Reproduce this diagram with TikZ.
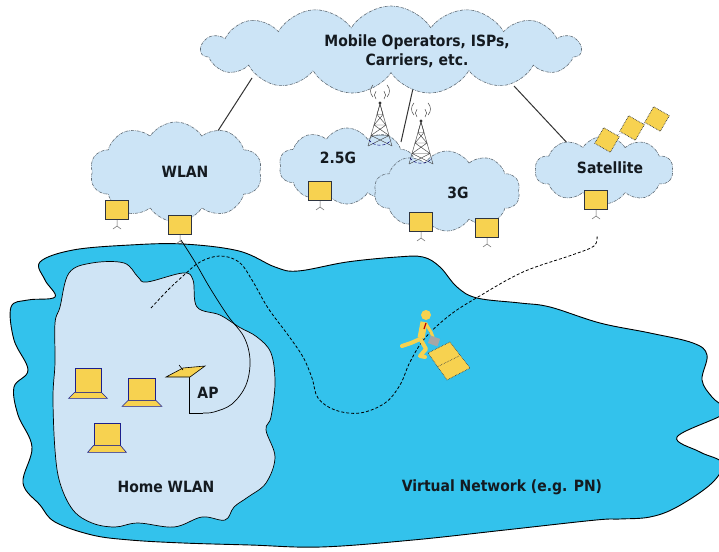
\documentclass[tikz,border=0pt]{standalone}
\usepackage{fontspec}
\setmainfont{DejaVu Sans Condensed}
\usetikzlibrary{shapes.symbols,shapes.geometric,calc}

\definecolor{cloudfill}{HTML}{CCE4F6}
\definecolor{homefill}{HTML}{CFE4F5}
\definecolor{netblue}{HTML}{33C2EC}
\definecolor{devyellow}{HTML}{F7D250}
\definecolor{cloudline}{HTML}{5F6B75}
\definecolor{devedge}{HTML}{2E3440}
\definecolor{inktext}{HTML}{141A20}

\tikzset{
  cloudy/.style={shape=cloud, draw=cloudline, line width=0.6pt, densely dashdotted,
    fill=cloudfill, cloud puff arc=115, inner sep=0pt},
  lbl/.style={font=\bfseries\fontsize{15.5}{19.5}\selectfont, text=inktext, inner sep=0pt, align=center},
  link/.style={draw=black!80, line width=1pt},
  device/.style={draw=devedge, line width=1pt, fill=devyellow, minimum width=23pt,
    minimum height=19pt, inner sep=0pt},
  standline/.style={draw=black!60, line width=0.5pt},
  screen/.style={fill=devyellow, draw=devedge!60!blue, line width=0.6pt, inner sep=0pt},
  region/.style={draw=black, line width=0.9pt},
  towerline/.style={draw=black!75, line width=0.45pt},
  satbox/.style={draw=devedge, densely dotted, line width=0.7pt, fill=devyellow,
    minimum size=18pt, inner sep=0pt, rotate=-30},
  runner/.style={draw=devyellow, line width=4pt, line cap=round, line join=round},
  pics/mast/.style={code={
    \draw[towerline] (0,0) -- (-12,42) (0,0) -- (12,42);
    \draw[towerline] (-3,10.5) -- (3,10.5) (-6,21) -- (6,21) (-9,31.5) -- (9,31.5)
      (-3,10.5) -- (6,21) (3,10.5) -- (-6,21) (-6,21) -- (9,31.5) (6,21) -- (-9,31.5)
      (-9,31.5) -- (12,42) (9,31.5) -- (-12,42) (0,0) -- (3,10.5) (0,0) -- (-3,10.5);
    \fill[black!80] (0,-1) circle (1.7);
    \draw[towerline] (-4,-5) arc[start angle=135,end angle=225,radius=5.5];
    \draw[towerline] (-7,-7) arc[start angle=135,end angle=225,radius=8.5];
    \draw[towerline] (4,-5) arc[start angle=45,end angle=-45,radius=5.5];
    \draw[towerline] (7,-7) arc[start angle=45,end angle=-45,radius=8.5];
    \draw[densely dashed, draw=blue!45!black, line width=0.5pt]
      (-11,36) .. controls (-6,43) and (6,43) .. (11,36);
  }}
}

\begin{document}
\begin{tikzpicture}[x=1pt,y=-1pt]
\useasboundingbox[fill=white] (0,0) rectangle (719,551);

% uplinks from the operator cloud
\coordinate (u1a) at (252,78);  \coordinate (u1b) at (214,137);
\coordinate (u2a) at (414,84);  \coordinate (u2b) at (401,142);
\coordinate (u3a) at (514,86);  \coordinate (u3b) at (570,146);
\draw[link] (u1a) -- (u1b);
\draw[link] (u2a) -- (u2b);
\draw[link] (u3a) -- (u3b);

% clouds
\node[cloudy, cloud puffs=15, minimum width=380pt, minimum height=88pt] (ops) at (391,50) {};
\node[lbl] (opstext) at (417,51) {Mobile Operators, ISPs,\\Carriers, etc.};

\node[cloudy, cloud puffs=10, minimum width=172pt, minimum height=100pt] (wlan) at (176,172) {};
\node[lbl] (wlantext) at (185,172) {WLAN};

\node[cloudy, cloud puffs=10, minimum width=136pt, minimum height=76pt] (g25) at (347,166) {};
\node[lbl] (g25text) at (338,158) {2.5G};
\pic (mast1) at (380,104) {mast};

\node[cloudy, cloud puffs=10, minimum width=146pt, minimum height=80pt] (g3) at (447,191) {};
\node[lbl] (g3text) at (458,193) {3G};
\pic (mast2) at (421,122) {mast};

\node[cloudy, cloud puffs=10, minimum width=138pt, minimum height=68pt] (sat) at (604,170) {};
\node[lbl] (sattext) at (610,168) {Satellite};

% satellites in orbit
\node[satbox] (sat1) at (607,140) {};
\node[satbox] (sat2) at (632,128) {};
\node[satbox] (sat3) at (657,119) {};
\draw[densely dotted, draw=devedge] (sat1) -- (sat2) -- (sat3);

% virtual network area
\draw[region, fill=netblue] plot[smooth cycle, tension=0.6] coordinates {
  (40,262) (73,250) (130,245) (183,244) (239,251) (275,267) (298,271) (347,262)
  (397,257) (423,257) (440,267) (457,287) (477,298) (520,303) (550,307) (600,323)
  (650,333) (693,343) (707,355) (702,380) (712,397) (722,406) (722,415) (677,437)
  (700,452) (722,463) (712,483) (677,507) (650,517) (620,519) (596,520) (505,530)
  (413,540) (321,547) (250,545) (183,543) (130,540) (92,535) (55,522) (40,505)
  (23,483) (32,447) (18,415) (14,387) (28,370) (14,340) (11,307) (28,300) (55,297)
  (45,280)};

% home WLAN area
\draw[region, line width=0.7pt, fill=homefill] plot[smooth cycle, tension=0.6] coordinates {
  (69,273) (92,263) (124,263) (138,277) (147,282) (183,273) (193,280) (197,307)
  (220,315) (239,327) (257,337) (271,353) (275,383) (271,417) (266,430) (275,457)
  (266,483) (248,497) (234,507) (225,520) (202,517) (174,527) (138,523) (115,527)
  (92,523) (73,510) (60,483) (55,450) (53,397) (55,363) (55,323) (60,307)};

% access points of the clouds
\node[device] (dw1) at (117,210) {};
\node[device] (dw2) at (180,225) {};
\node[device] (d25) at (320,191) {};
\node[device] (d3a) at (421,222) {};
\node[device] (d3b) at (487,228) {};
\node[device] (dsat) at (596,200) {};
\foreach \d in {dw1,dw2,d25,d3a,d3b,dsat}{
  \draw[standline] (\d.south) -- ++(0,6) coordinate (\d-foot)
    (\d-foot) -- ++(-4,3) (\d-foot) -- ++(4,3);
}

% wired link from the WLAN access point to the home AP
\coordinate (apbase) at (203,413);
\draw[black, line width=0.7pt] (dw2-foot) plot[smooth, tension=0.6] coordinates {
  (181,240) (195,262) (210,288) (228,316) (244,337) (250,360) (246,385) (232,404)
  (214,412) (203,413)};

% path of the roaming user
\draw[black, line width=0.8pt, dash pattern=on 3pt off 2pt] plot[smooth, tension=0.6] coordinates {
  (151,308) (168,290) (183,276) (200,262) (220,256) (239,262) (252,280) (268,308)
  (288,335) (303,357) (312,378) (318,398) (335,410) (360,413) (385,403) (400,385)
  (410,362) (425,338) (450,315) (478,297) (523,272) (572,255) (594,246) (597,236)};

% home AP
\draw[black, line width=0.8pt] (189,377) -- (189,413) -- (apbase);
\filldraw[fill=devyellow, draw=black, line width=0.6pt]
  (166,377) -- (190,377) -- (205,366) -- (183,368) -- cycle;
\draw[black, line width=0.6pt] (179,365) -- (183,370);
\node[lbl] (aptext) at (208,393) {AP};

% laptops at home
\node[screen, minimum width=26pt, minimum height=24pt] (lap1) at (88,380) {};
\filldraw[fill=devyellow, draw=devedge!60!blue, line width=0.6pt]
  (lap1.south west) -- (lap1.south east) -- ++(6,6) -- ($(lap1.south west)+(-6,6)$) -- cycle;
\node[screen, minimum width=27pt, minimum height=22pt] (lap2) at (142,389) {};
\filldraw[fill=devyellow, draw=devedge!60!blue, line width=0.6pt]
  (lap2.south west) -- (lap2.south east) -- ++(6,6) -- ($(lap2.south west)+(-6,6)$) -- cycle;
\node[screen, minimum width=26pt, minimum height=22pt] (lap3) at (107,434) {};
\filldraw[fill=devyellow, draw=devedge!60!blue, line width=0.6pt]
  (lap3.south west) -- (lap3.south east) -- ++(6,7) -- ($(lap3.south west)+(-6,7)$) -- cycle;

% roaming user with briefcase and laptop
\fill[devyellow] (426,315) circle (5);
\draw[runner, line width=7pt, line cap=butt] (424,322) -- (421,338);
\draw[runner] (420,339) -- (411,343) -- (402,346);
\draw[runner] (421,340) -- (426,349) -- (420,356) -- (425,357);
\draw[runner, line width=3pt] (426,324) -- (431,332) -- (433,337);
\draw[red!75!black, line width=1.2pt] (426,323) -- (424,329);
\node[fill=black!35, minimum width=10pt, minimum height=8pt, inner sep=0pt, rotate=-20] (case) at (434,341) {};
\filldraw[fill=devyellow, draw=devedge, densely dotted, line width=0.6pt]
  (428,353) -- (450,342) -- (470,368) -- (447,380) -- cycle;
\draw[devedge, densely dotted, line width=0.6pt] (437,367) -- (459,356);

% area labels
\node[lbl] (hometext) at (166,487) {Home WLAN};
\node[lbl] (vntext) at (502,487) {Virtual Network (e.g. PN)};
\end{tikzpicture}
\end{document}
